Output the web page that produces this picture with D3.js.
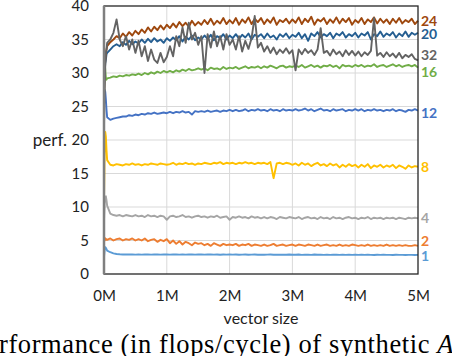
<!DOCTYPE html>
<html>
<head>
<meta charset="utf-8">
<script src="https://cdn.jsdelivr.net/npm/d3@7"></script>
<style>
  body { margin: 0; background: #fff; }
  svg { display: block; font-family: Lato, "Open Sans", sans-serif; }
</style>
</head>
<body>
<div id="vis"></div>
<script>
// vector sizes (in millions) shared by every series
const X_VALUES = [0, 0.01, 0.02, 0.03, 0.04,
  0.05, 0.1, 0.15, 0.2, 0.25, 0.3, 0.35, 0.4, 0.45, 0.5,
  0.55, 0.6, 0.65, 0.7, 0.75, 0.8, 0.85, 0.9, 0.95, 1.0,
  1.05, 1.1, 1.15, 1.2, 1.25, 1.3, 1.35, 1.4, 1.45, 1.5,
  1.55, 1.6, 1.65, 1.7, 1.75, 1.8, 1.85, 1.9, 1.95, 2.0,
  2.05, 2.1, 2.15, 2.2, 2.25, 2.3, 2.35, 2.4, 2.45, 2.5,
  2.55, 2.6, 2.65, 2.7, 2.75, 2.8, 2.85, 2.9, 2.95, 3.0,
  3.05, 3.1, 3.15, 3.2, 3.25, 3.3, 3.35, 3.4, 3.45, 3.5,
  3.55, 3.6, 3.65, 3.7, 3.75, 3.8, 3.85, 3.9, 3.95, 4.0,
  4.05, 4.1, 4.15, 4.2, 4.25, 4.3, 4.35, 4.4, 4.45, 4.5,
  4.55, 4.6, 4.65, 4.7, 4.75, 4.8, 4.85, 4.9, 4.95, 5.0];

// perf. for each series (flops/cycle)
const PERF_1 = [2.5, 3.6, 4.0, 3.9, 3.7,
  3.5, 3.25, 3.08, 2.98, 2.94, 2.92, 2.91, 2.9, 2.9, 2.89,
  2.9, 2.89, 2.9, 2.9, 2.89, 2.9, 2.9, 2.89, 2.9, 2.9,
  2.89, 2.9, 2.9, 2.89, 2.9, 2.89, 2.9, 2.9, 2.89, 2.9,
  2.9, 2.89, 2.9, 2.9, 2.89, 2.9, 2.88, 2.9, 2.89, 2.9,
  2.89, 2.9, 2.88, 2.89, 2.9, 2.88, 2.89, 2.9, 2.88, 2.89,
  2.88, 2.89, 2.9, 2.88, 2.89, 2.87, 2.89, 2.88, 2.9, 2.88,
  2.87, 2.9, 2.86, 2.89, 2.88, 2.86, 2.9, 2.87, 2.88, 2.86,
  2.89, 2.86, 2.88, 2.87, 2.85, 2.89, 2.86, 2.88, 2.85, 2.87,
  2.86, 2.88, 2.85, 2.87, 2.86, 2.84, 2.88, 2.85, 2.87, 2.85,
  2.86, 2.84, 2.87, 2.85, 2.86, 2.84, 2.86, 2.85, 2.84, 2.86];

const PERF_2 = [4.7, 5.4, 5.3, 5.1, 5.2,
  5.1, 5.3, 5.0, 5.2, 5.3, 5.0, 5.2, 5.1, 5.3, 5.0,
  5.2, 5.0, 5.3, 4.9, 5.1, 5.2, 4.8, 5.1, 4.9, 5.2,
  4.6, 5.0, 4.5, 4.9, 4.4, 4.8, 4.6, 4.3, 4.7, 4.5,
  4.6, 4.3, 4.5, 4.2, 4.6, 4.4, 4.2, 4.5, 4.3, 4.4,
  4.3, 4.5, 4.2, 4.4, 4.3, 4.5, 4.2, 4.4, 4.3, 4.2,
  4.4, 4.2, 4.3, 4.5, 4.2, 4.3, 4.4, 4.2, 4.3, 4.4,
  4.2, 4.4, 4.3, 4.2, 4.4, 4.3, 4.2, 4.4, 4.2, 4.3,
  4.4, 4.2, 4.3, 4.2, 4.4, 4.2, 4.3, 4.2, 4.4, 4.3,
  4.2, 4.3, 4.2, 4.4, 4.2, 4.3, 4.2, 4.3, 4.2, 4.4,
  4.2, 4.3, 4.2, 4.3, 4.2, 4.3, 4.2, 4.2, 4.3, 4.2];

const PERF_4 = [8.0, 10.5, 11.5, 11.6, 11.0,
  10.2, 9.0, 8.8, 8.7, 8.8, 8.6, 8.8, 8.7, 8.6, 8.8,
  8.6, 8.7, 8.5, 8.8, 8.6, 8.7, 8.5, 8.7, 8.6, 8.1,
  8.6, 8.7, 8.5, 8.6, 8.8, 8.5, 8.6, 8.4, 8.6, 8.7,
  8.5, 8.6, 8.4, 8.6, 8.5, 8.7, 8.4, 8.5, 8.6, 8.1,
  8.5, 8.4, 8.6, 8.4, 8.5, 8.3, 8.6, 8.4, 8.5, 8.3,
  8.5, 8.3, 8.5, 8.4, 8.2, 8.5, 8.4, 8.3, 8.5, 8.4,
  8.3, 8.5, 8.2, 8.4, 8.5, 8.3, 8.4, 8.2, 8.5, 8.3,
  8.4, 8.2, 8.5, 8.3, 8.4, 8.2, 8.4, 8.5, 8.3, 8.4,
  8.2, 8.4, 8.3, 8.5, 8.2, 8.4, 8.3, 8.4, 8.2, 8.4,
  8.3, 8.4, 8.2, 8.4, 8.3, 8.2, 8.4, 8.3, 8.4, 8.3];

const PERF_8 = [11.0, 18.0, 21.2, 20.5, 18.5,
  17.0, 16.3, 16.2, 16.4, 16.3, 16.2, 16.4, 16.3, 16.5, 16.3,
  16.4, 16.2, 16.4, 16.3, 16.5, 16.4, 16.3, 16.5, 16.4, 16.3,
  16.4, 16.6, 16.3, 16.5, 16.4, 16.6, 16.4, 16.5, 16.3, 16.5,
  16.4, 16.6, 16.5, 16.4, 16.6, 16.5, 16.7, 16.4, 16.6, 16.5,
  16.6, 16.4, 16.6, 16.5, 16.7, 16.5, 16.6, 16.4, 16.6, 16.5,
  16.6, 16.4, 16.7, 14.3, 16.5, 16.6, 16.4, 16.6, 16.5, 16.3,
  16.5, 16.2, 16.6, 16.3, 16.5, 16.1, 16.4, 16.6, 16.2, 16.4,
  16.1, 16.5, 16.2, 16.4, 15.9, 16.3, 16.0, 16.4, 16.1, 16.3,
  15.9, 16.3, 16.0, 16.4, 15.8, 16.2, 16.0, 16.3, 15.9, 16.2,
  16.0, 16.3, 15.8, 16.2, 16.0, 15.7, 16.2, 15.9, 16.1, 16.0];

const PERF_12 = [25.0, 27.5, 27.2, 26.0, 24.5,
  23.4, 23.0, 23.2, 23.3, 23.4, 23.5, 23.5, 23.7, 23.6, 23.8,
  23.7, 23.9, 23.8, 24.0, 23.9, 24.1, 23.9, 24.0, 24.1, 24.0,
  24.2, 24.0, 24.2, 24.1, 24.3, 24.1, 24.2, 23.8, 24.3, 24.2,
  24.3, 24.2, 24.4, 24.2, 24.3, 24.4, 24.2, 24.4, 24.3, 24.5,
  24.3, 24.5, 24.3, 24.4, 24.6, 24.3, 24.5, 24.4, 24.6, 24.4,
  24.5, 24.3, 24.6, 24.4, 24.5, 24.3, 24.6, 24.4, 24.5, 24.4,
  24.6, 24.4, 24.5, 24.7, 24.4, 24.6, 24.3, 24.5, 24.7, 24.4,
  24.5, 24.3, 24.6, 24.4, 24.5, 24.6, 24.3, 24.5, 24.4, 24.6,
  24.4, 24.6, 24.3, 24.5, 24.4, 24.6, 24.4, 24.5, 24.3, 24.5,
  24.4, 24.6, 24.3, 24.5, 24.4, 24.2, 24.5, 24.4, 24.6, 24.4];

const PERF_16 = [26.0, 31.5, 30.5, 29.2, 29.0,
  29.2, 29.3, 29.5, 29.4, 29.6, 29.5, 29.7, 29.6, 29.8, 29.7,
  29.9, 29.7, 30.0, 29.8, 30.1, 29.9, 30.2, 30.0, 30.3, 30.1,
  30.3, 30.1, 30.4, 30.2, 30.5, 30.3, 30.6, 30.4, 30.5, 30.7,
  30.5, 30.7, 30.4, 30.8, 30.6, 30.7, 30.5, 30.9, 30.6, 30.8,
  30.7, 30.9, 30.6, 30.8, 31.0, 30.7, 30.9, 30.8, 31.0, 30.7,
  31.0, 30.8, 31.1, 30.9, 30.7, 31.0, 31.1, 30.8, 31.0, 30.9,
  31.1, 30.9, 31.2, 30.8, 31.0, 31.2, 30.9, 31.1, 30.8, 31.1,
  31.0, 31.2, 30.9, 31.1, 30.7, 31.2, 31.0, 31.1, 30.9, 31.2,
  31.0, 31.2, 30.9, 31.1, 31.0, 31.3, 30.9, 31.1, 31.2, 30.9,
  31.1, 31.3, 31.0, 31.2, 30.9, 31.1, 31.2, 31.0, 31.2, 30.8];

const PERF_20 = [27.0, 30.0, 31.5, 32.0, 32.8,
  33.0, 33.5, 34.0, 34.3, 34.0, 34.6, 34.2, 34.8, 34.3, 34.7,
  34.4, 35.0, 34.5, 35.1, 34.6, 35.2, 34.7, 35.0, 34.5, 35.2,
  34.8, 35.3, 34.9, 35.5, 34.7, 35.4, 35.0, 35.6, 34.9, 35.3,
  35.0, 35.6, 35.1, 35.7, 34.9, 35.5, 35.2, 35.8, 35.0, 35.6,
  35.2, 35.8, 35.1, 35.7, 35.3, 35.9, 35.0, 35.7, 35.4, 35.8,
  35.2, 35.9, 35.3, 35.6, 35.0, 35.8, 35.4, 35.9, 35.2, 35.7,
  35.4, 36.0, 35.2, 35.8, 34.8, 35.9, 35.5, 36.1, 35.3, 35.8,
  35.5, 36.0, 35.2, 35.9, 35.6, 36.1, 35.3, 35.8, 35.5, 36.0,
  35.3, 35.9, 35.6, 36.1, 35.0, 35.8, 35.5, 36.2, 35.4, 35.9,
  35.6, 36.1, 35.3, 35.9, 35.5, 36.2, 35.4, 36.0, 35.7, 36.0];

const PERF_24 = [26.0, 30.0, 32.0, 33.0, 33.5,
  34.0, 34.6, 35.0, 35.5, 35.2, 35.9, 35.4, 36.1, 35.6, 36.3,
  35.8, 36.5, 36.0, 36.8, 36.2, 36.9, 36.4, 37.1, 36.5, 37.2,
  36.7, 37.4, 36.8, 37.6, 37.0, 37.5, 36.9, 37.8, 37.1, 37.6,
  37.2, 37.9, 37.3, 38.1, 37.2, 37.8, 37.4, 38.2, 37.3, 37.9,
  37.4, 38.2, 37.2, 38.0, 37.5, 38.3, 37.3, 38.1, 37.6, 38.2,
  37.3, 38.0, 37.5, 38.3, 37.2, 37.9, 37.6, 38.1, 37.4, 38.0,
  37.5, 38.3, 37.3, 38.1, 37.6, 38.4, 37.2, 38.0, 37.7, 38.2,
  37.3, 38.0, 37.5, 38.3, 37.4, 38.1, 37.6, 38.2, 37.2, 37.9,
  37.5, 38.2, 37.3, 38.0, 37.6, 38.3, 37.4, 38.1, 37.5, 38.0,
  37.3, 38.1, 37.5, 38.2, 37.4, 37.9, 37.6, 38.1, 37.3, 37.8];

const PERF_32 = [22.0, 28.0, 31.0, 33.0, 33.5,
  34.5, 35.0, 36.0, 38.0, 35.0, 34.0, 35.5, 33.5, 35.0, 33.0,
  34.8, 32.5, 34.0, 31.8, 33.5, 32.0, 31.5, 33.0, 31.6, 32.4,
  34.0, 32.5, 35.5, 34.0, 36.8, 34.5, 37.5, 35.0, 36.0, 34.2,
  35.5, 30.0, 35.8, 33.8, 36.2, 34.0, 35.5, 33.5, 35.8, 34.2,
  35.0, 33.5, 35.5, 33.2, 34.8, 33.6, 35.2, 38.5, 33.8, 34.5,
  33.2, 34.0, 33.0, 33.8, 32.8, 33.5, 33.0, 33.7, 32.9, 33.4,
  30.4, 33.5, 32.8, 33.6, 33.0, 33.4, 32.7, 33.5, 36.7, 33.0,
  33.3, 32.6, 33.5, 32.8, 33.2, 32.5, 33.4, 32.7, 33.3, 32.6,
  33.2, 32.5, 33.1, 32.7, 33.3, 38.2, 32.6, 33.0, 32.4, 33.1,
  32.5, 32.9, 32.3, 33.0, 32.2, 32.7, 32.4, 32.8, 32.1, 31.9];

// series names, colours and where their end labels sit (in perf. units)
const SERIES_NAMES = ["1", "2", "4", "8", "12", "16", "20", "24", "32"];
const SERIES_DATA = [PERF_1, PERF_2, PERF_4, PERF_8, PERF_12, PERF_16, PERF_20, PERF_24, PERF_32];
const SERIES_COLORS = ["#5B9BD5", "#ED7D31", "#A5A5A5", "#FFC000", "#4472C4",
                       "#70AD47", "#255E91", "#9E480E", "#636363"];
const LABEL_AT = [2.7, 4.9, 8.4, 16.0, 24.0, 30.2, 35.9, 37.7, 32.7];

const Y_TICKS = [0, 5, 10, 15, 20, 25, 30, 35, 40];
const X_TICKS = [0, 1, 2, 3, 4, 5];

// frame constants
const FRAME_WIDTH = 452;
const FRAME_HEIGHT = 356;
const MARGINS = {left: 104, right: 34, top: 6, bottom: 82};
const VIS_WIDTH = FRAME_WIDTH - (MARGINS.left + MARGINS.right);
const VIS_HEIGHT = FRAME_HEIGHT - (MARGINS.top + MARGINS.bottom);

const FRAME = d3.select("#vis")
  .append("svg")
  .attr("width", FRAME_WIDTH)
  .attr("height", FRAME_HEIGHT);

const X_SCALE = d3.scaleLinear().domain([0, 5]).range([0, VIS_WIDTH]);
const Y_SCALE = d3.scaleLinear().domain([0, 40]).range([VIS_HEIGHT, 0]);

const PLOT = FRAME.append("g")
  .attr("transform", "translate(" + MARGINS.left + "," + MARGINS.top + ")");

// gridlines
PLOT.selectAll(".hgrid")
  .data(Y_TICKS.slice(1, -1))
  .enter()
  .append("line")
  .attr("x1", 0).attr("x2", VIS_WIDTH)
  .attr("y1", (d) => Y_SCALE(d)).attr("y2", (d) => Y_SCALE(d))
  .attr("stroke", "#d9d9d9").attr("stroke-width", 1);
PLOT.selectAll(".vgrid")
  .data(X_TICKS.slice(1, -1))
  .enter()
  .append("line")
  .attr("x1", (d) => X_SCALE(d)).attr("x2", (d) => X_SCALE(d))
  .attr("y1", 0).attr("y2", VIS_HEIGHT)
  .attr("stroke", "#d9d9d9").attr("stroke-width", 1);

// axes (labels only)
const Y_AXIS = PLOT.append("g")
  .call(d3.axisLeft(Y_SCALE).tickValues(Y_TICKS).tickSize(0).tickPadding(15));
Y_AXIS.select(".domain").remove();
Y_AXIS.attr("font-family", null);
Y_AXIS.selectAll("text").style("font-size", "15px").attr("fill", "#222");

const X_AXIS = PLOT.append("g")
  .attr("transform", "translate(0," + VIS_HEIGHT + ")")
  .call(d3.axisBottom(X_SCALE).tickValues(X_TICKS).tickSize(0).tickPadding(16)
    .tickFormat((d) => d + "M"));
X_AXIS.select(".domain").remove();
X_AXIS.attr("font-family", null);
X_AXIS.selectAll("text").style("font-size", "15px").attr("fill", "#222");

// the lines
const LINE = d3.line()
  .x((d, i) => X_SCALE(X_VALUES[i]))
  .y((d) => Y_SCALE(d));

PLOT.selectAll(".series")
  .data(SERIES_DATA)
  .enter()
  .append("path")
  .attr("d", (d) => LINE(d))
  .attr("fill", "none")
  .attr("stroke", (d, i) => SERIES_COLORS[i])
  .attr("stroke-width", 1.9)
  .attr("stroke-linejoin", "round");

// frame border
PLOT.append("rect")
  .attr("x", 0).attr("y", 0)
  .attr("width", VIS_WIDTH).attr("height", VIS_HEIGHT)
  .attr("fill", "none").attr("stroke", "#262626").attr("stroke-width", 1.3);
PLOT.append("line")
  .attr("x1", 0).attr("x2", 0).attr("y1", 0).attr("y2", VIS_HEIGHT)
  .attr("stroke", "#7f7f7f").attr("stroke-width", 2.5);

// series labels on the right
PLOT.selectAll(".label")
  .data(SERIES_NAMES)
  .enter()
  .append("text")
  .attr("x", VIS_WIDTH + 3)
  .attr("y", (d, i) => Y_SCALE(LABEL_AT[i]))
  .attr("dy", "0.36em")
  .style("font-size", "14px")
  .attr("font-weight", "bold")
  .attr("fill", (d, i) => SERIES_COLORS[i])
  .text((d) => d);

// axis titles
FRAME.append("text")
  .attr("x", 67).attr("y", Y_SCALE(20) + MARGINS.top)
  .attr("dy", "0.36em")
  .attr("text-anchor", "end")
  .style("font-size", "17px").attr("fill", "#222")
  .text("perf.");
FRAME.append("text")
  .attr("x", 261).attr("y", 324)
  .attr("text-anchor", "middle")
  .style("font-size", "16px").attr("fill", "#222")
  .text("vector size");

// caption cut off by the crop
const CAPTION = FRAME.append("text")
  .attr("x", -1).attr("y", 353)
  .style("font-family", "'Liberation Serif', 'DejaVu Serif', serif")
  .style("font-size", "26.5px")
  .style("letter-spacing", "0.6px")
  .attr("fill", "#000")
  .text("rformance (in flops/cycle) of synthetic ");
CAPTION.append("tspan")
  .style("font-style", "italic")
  .text("A");
</script>
</body>
</html>
